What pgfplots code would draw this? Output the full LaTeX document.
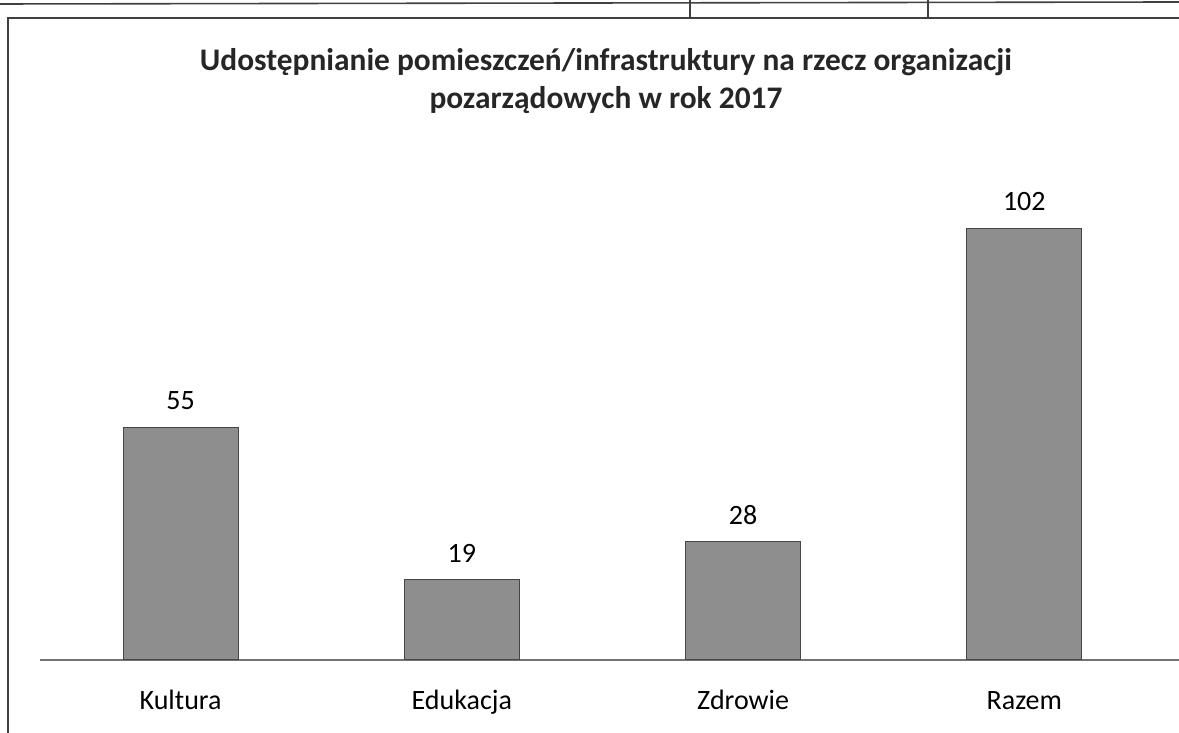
\documentclass[border=0pt]{standalone}
\usepackage{pgfplots}
\pgfplotsset{compat=1.18}
\usepackage{fontspec}
\setmainfont{Carlito}
\definecolor{barfill}{RGB}{142,142,142}
\definecolor{baredge}{RGB}{70,70,70}
\begin{document}
\begin{tikzpicture}
\useasboundingbox (0,0) rectangle (589.5pt,366.5pt);
% frame and fragment of table above
\draw[black!75, line width=0.6pt] (4pt,0) -- (4pt,357.5pt) -- (589.5pt,357.5pt);
\draw[black!75, line width=0.8pt] (0,364.5pt) -- (589.5pt,365.5pt);
\draw[black!75, line width=0.6pt] (345pt,357.5pt) -- (345pt,366.5pt);
\draw[black!75, line width=0.6pt] (464pt,357.5pt) -- (464pt,366.5pt);
\begin{axis}[
  at={(20pt,36.5pt)}, anchor=south west,
  scale only axis, width=569.5pt, height=254pt,
  xmin=-0.5, xmax=3.55, ymin=0, ymax=120,
  axis x line=bottom, axis y line=none,
  axis line style={black!55, line width=0.6pt, -},
  xtick={0,1,2,3},
  xticklabels={Kultura,Edukacja,Zdrowie,Razem},
  major tick length=0pt,
  /pgf/number format/assume math mode=true,
  xticklabel style={font=\fontsize{14pt}{16pt}\selectfont, text height=10pt, text depth=3pt, yshift=-11pt},
  ybar, bar width=57.5pt, bar shift=0pt,
  nodes near coords,
  every node near coord/.append style={font=\fontsize{14pt}{16pt}\selectfont, yshift=5pt},
  clip=false,
]
\addplot[fill=barfill, draw=baredge, line width=0.5pt] coordinates {(0,55) (1,19) (2,28) (3,102)};
\end{axis}
\node[font=\bfseries\fontsize{15.7pt}{19pt}\selectfont, align=center, text=black!85] at (303pt,326pt)
  {Udostępnianie pomieszczeń/infrastruktury na rzecz organizacji\\pozarządowych w rok 2017};
\end{tikzpicture}
\end{document}
